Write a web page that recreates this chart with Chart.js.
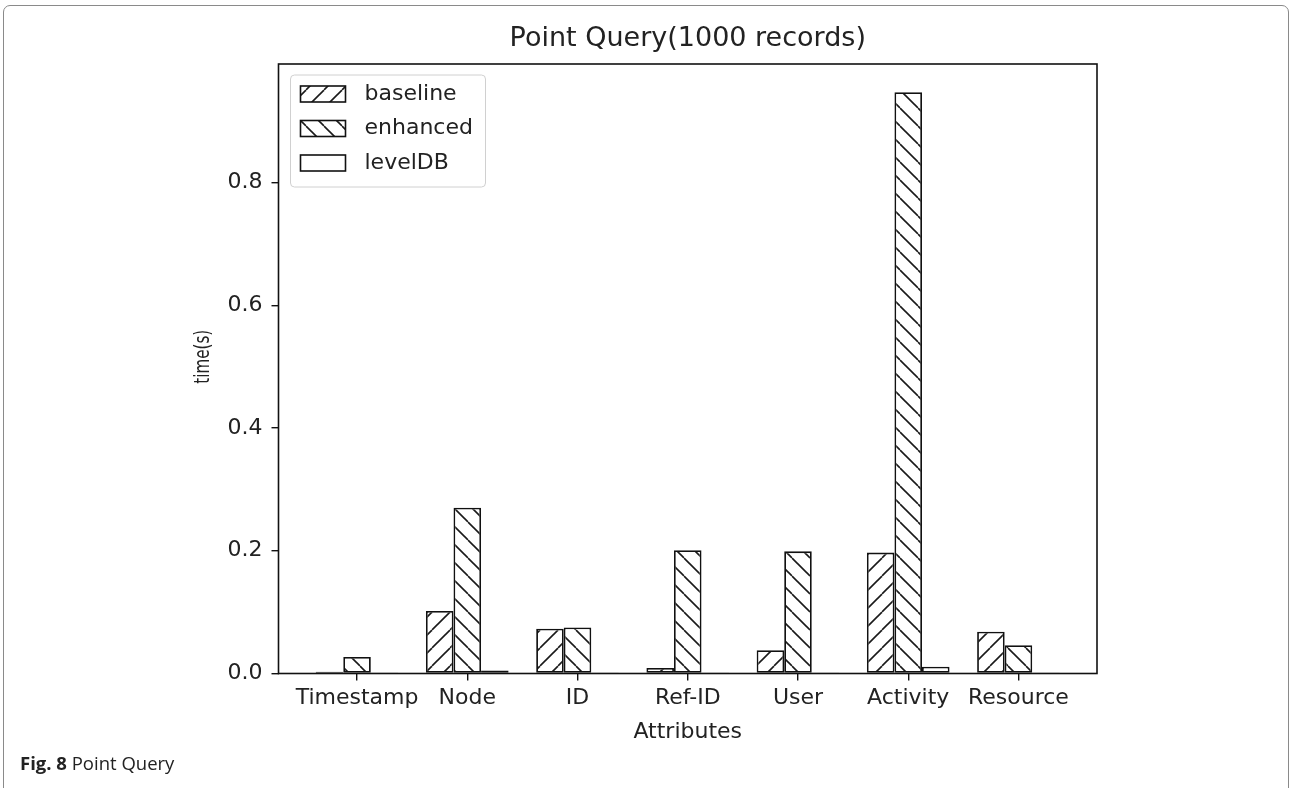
<!DOCTYPE html>
<html>
<head>
<meta charset="utf-8">
<script src="https://cdn.jsdelivr.net/npm/chart.js"></script>
<style>
    html, body { margin: 0; padding: 0; background: #fff; }
    #wrap { position: relative; width: 1290px; height: 788px; overflow: hidden; }
    #frame { position: absolute; left: 3px; top: 5px; width: 1286px; height: 830px; box-sizing: border-box; border: 1.5px solid #8a8a8a; border-radius: 7px; }
    #chart { position: absolute; left: 0; top: 0; }
    #caption { position: absolute; left: 20px; top: 754px; font: 18.5px/18px "Open Sans", sans-serif; color: #222; }
</style>
</head>
<body>
<div id="wrap">
    <div id="frame"></div>
    <canvas id="chart" width="1290" height="788"></canvas>
    <div id="caption"><b>Fig. 8</b> Point Query</div>
</div>
<script>
const categories = ['Timestamp', 'Node', 'ID', 'Ref-ID', 'User', 'Activity', 'Resource'];
const baseline = [0.003, 0.102, 0.073, 0.009, 0.038, 0.197, 0.068];
const enhanced = [0.027, 0.270, 0.075, 0.201, 0.199, 0.947, 0.046];
const levelDB = [0.001, 0.005, 0.001, 0.001, 0.001, 0.011, 0.001];
const yTicks = [0.0, 0.2, 0.4, 0.6, 0.8];
const chartTitle = 'Point Query(1000 records)';
const xTitle = 'Attributes';
const yTitle = 'time(s)';

const FONT = '"DejaVu Sans", sans-serif';
const INK = '#222';

function hatch(context, dir) {
    const s = 18;
    const tile = document.createElement('canvas');
    tile.width = s;
    tile.height = s;
    const g = tile.getContext('2d');
    g.fillStyle = '#fff';
    g.fillRect(0, 0, s, s);
    g.strokeStyle = '#1a1a1a';
    g.lineWidth = 1.6;
    for (const o of [-s, 0, s]) {
        g.beginPath();
        if (dir === '/') {
            g.moveTo(o, s);
            g.lineTo(o + s, 0);
        } else {
            g.moveTo(o, 0);
            g.lineTo(o + s, s);
        }
        g.stroke();
    }
    return context.createPattern(tile, 'repeat');
}

function toPoints(values) {
    return values.map((v, i) => ({ x: i, y: v }));
}

// axes frame on all four sides, like matplotlib spines
const framePlugin = {
    id: 'frame',
    afterDatasetsDraw(chart) {
        const a = chart.chartArea;
        const ctx = chart.ctx;
        ctx.save();
        ctx.strokeStyle = '#111';
        ctx.lineWidth = 1.6;
        ctx.strokeRect(a.left, a.top, a.right - a.left, a.bottom - a.top);
        ctx.restore();
    }
};

// title centred over the plot area, not the whole canvas
const titlePlugin = {
    id: 'plotTitle',
    afterDraw(chart) {
        const a = chart.chartArea;
        const ctx = chart.ctx;
        ctx.save();
        ctx.font = '27px ' + FONT;
        ctx.textAlign = 'center';
        ctx.textBaseline = 'middle';
        ctx.fillStyle = INK;
        ctx.fillText(chartTitle, (a.left + a.right) / 2, a.top - 25.5);
        ctx.restore();
    }
};

// boxed legend in the upper left of the plot
const legendPlugin = {
    id: 'boxLegend',
    afterDraw(chart) {
        const a = chart.chartArea;
        const ctx = chart.ctx;
        const x = a.left + 12;
        const y = a.top + 11;
        ctx.save();
        ctx.beginPath();
        ctx.roundRect(x, y, 195, 112, 4);
        ctx.fillStyle = 'rgba(255,255,255,0.8)';
        ctx.fill();
        ctx.strokeStyle = '#d0d0d0';
        ctx.lineWidth = 1;
        ctx.stroke();
        ctx.font = '22px ' + FONT;
        ctx.textBaseline = 'middle';
        chart.data.datasets.forEach((ds, i) => {
            const cy = y + 19 + i * 34.5;
            ctx.fillStyle = ds.backgroundColor;
            ctx.fillRect(x + 10, cy - 8, 45, 16);
            ctx.strokeStyle = '#111';
            ctx.lineWidth = 1.6;
            ctx.strokeRect(x + 10, cy - 8, 45, 16);
            ctx.fillStyle = INK;
            ctx.fillText(ds.label, x + 74, cy);
        });
        ctx.restore();
    }
};

// y title is drawn narrower than the other text in the figure
const yTitlePlugin = {
    id: 'yTitle',
    afterDraw(chart) {
        const a = chart.chartArea;
        const ctx = chart.ctx;
        ctx.save();
        ctx.translate(a.left - 74.5, (a.top + a.bottom) / 2 - 12);
        ctx.rotate(-Math.PI / 2);
        ctx.scale(0.72, 1);
        ctx.font = '21px ' + FONT;
        ctx.textAlign = 'center';
        ctx.textBaseline = 'middle';
        ctx.fillStyle = INK;
        ctx.fillText(yTitle, 0, 0);
        ctx.restore();
    }
};

function drawChart() {
    const canvas = document.getElementById('chart');
    const context = canvas.getContext('2d');
    const bar = {
        borderColor: '#111',
        borderWidth: 1.8,
        borderSkipped: false,
        categoryPercentage: 0.75,
        barPercentage: 1.0
    };

    new Chart(canvas, {
        type: 'bar',
        data: {
            datasets: [
                Object.assign({ label: 'baseline', data: toPoints(baseline), backgroundColor: hatch(context, '/') }, bar),
                Object.assign({ label: 'enhanced', data: toPoints(enhanced), backgroundColor: hatch(context, '\\') }, bar),
                Object.assign({ label: 'levelDB', data: toPoints(levelDB), backgroundColor: '#fff' }, bar)
            ]
        },
        options: {
            responsive: false,
            animation: false,
            layout: { padding: { left: 0, right: 193, top: 64, bottom: 0 } },
            plugins: {
                legend: { display: false },
                tooltip: { enabled: false },
                title: { display: false }
            },
            scales: {
                x: {
                    type: 'linear',
                    min: -0.7125,
                    max: 6.7125,
                    offset: false,
                    afterBuildTicks: scale => {
                        scale.ticks = categories.map((c, i) => ({ value: i }));
                    },
                    afterFit: scale => {
                        scale.height = 114.5;
                    },
                    border: { display: false },
                    grid: { offset: false, drawOnChartArea: false, drawTicks: true, tickLength: 7, color: '#111', lineWidth: 1.4 },
                    ticks: {
                        color: INK,
                        font: { family: FONT, size: 22 },
                        padding: 5,
                        maxRotation: 0,
                        autoSkip: false,
                        callback: v => categories[v]
                    },
                    title: {
                        display: true,
                        text: xTitle,
                        color: INK,
                        font: { family: FONT, size: 22 },
                        padding: { top: 0, bottom: 43 }
                    }
                },
                y: {
                    min: 0,
                    max: 0.993,
                    afterBuildTicks: scale => {
                        scale.ticks = yTicks.map(v => ({ value: v }));
                    },
                    afterFit: scale => {
                        scale.width = 278.5;
                    },
                    border: { display: false },
                    grid: { drawOnChartArea: false, drawTicks: true, tickLength: 7, color: '#111', lineWidth: 1.4 },
                    ticks: {
                        color: INK,
                        font: { family: FONT, size: 22 },
                        padding: 9,
                        callback: v => v.toFixed(1)
                    }
                }
            }
        },
        plugins: [framePlugin, titlePlugin, legendPlugin, yTitlePlugin]
    });
}

drawChart();
</script>
</body>
</html>
